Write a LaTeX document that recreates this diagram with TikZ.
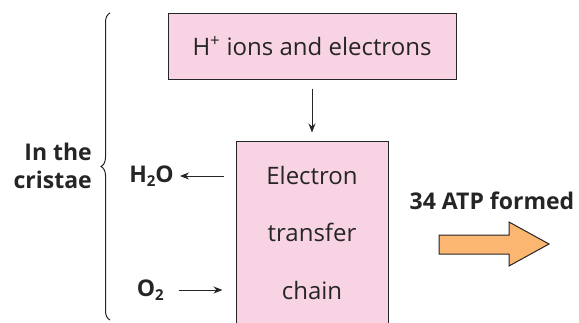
\documentclass[tikz,border=0pt]{standalone}
\usepackage{fontspec}
\setmainfont{Open Sans}
\usepackage{tikz}
\usetikzlibrary{arrows.meta,calc,decorations.pathreplacing}
\definecolor{rosa}{HTML}{F8D3E4}
\definecolor{laranja}{HTML}{FBB672}
\definecolor{tinta}{HTML}{262526}

\tikzset{
  caixa/.style={draw=tinta,fill=rosa,line width=1pt,text=tinta,inner sep=0pt},
  rotulo/.style={text=tinta,inner sep=0pt,font=\fontsize{23}{28}\selectfont\bfseries},
  seta/.style={->,draw=tinta,line width=0.8pt}
}

\begin{document}
\begin{tikzpicture}[x=1pt,y=-1pt,>={Stealth[length=9pt,width=7pt]},font=\fontsize{24}{29}\selectfont]
\useasboundingbox (0,0) rectangle (579,322);
\clip (0,0) rectangle (579,322);
\node[caixa,minimum width=288,minimum height=66] (ions) at (312,46) {H\textsuperscript{+} ions and electrons};
\node[caixa,minimum width=152,minimum height=183,align=center] (chain) at (312,232.5)
  {Electron\\[28.5pt]transfer\\[28.5pt]chain};
\draw[seta] ($(ions.south)+(0,9)$) -- ($(chain.north)+(0,-8)$);
\node[rotulo,anchor=east] (h2o) at (174,176) {H\raisebox{-4pt}{\fontsize{15}{15}\selectfont 2}O};
\node[rotulo,anchor=east] (o2) at (164,290) {O\raisebox{-4pt}{\fontsize{15}{15}\selectfont 2}};
\draw[seta,shorten <=12pt,shorten >=6pt] (chain.west |- h2o) -- (h2o);
\draw[seta,shorten <=15pt,shorten >=13pt] (o2) -- (chain.west |- o2);
\node[rotulo,align=right,anchor=east] (cristae) at (92,166) {In the\\cristae};
\draw[tinta,line width=1pt,decorate,decoration={brace,amplitude=9pt}] (110,320) -- (110,13);
\node[rotulo] (atp) at (492,201) {34 ATP formed};
\draw[tinta,fill=laranja,line width=1pt] (439,235) -- (509,235) -- (509,222) -- (549,244)
  -- (509,266) -- (509,254) -- (439,254) -- cycle;
\end{tikzpicture}
\end{document}
